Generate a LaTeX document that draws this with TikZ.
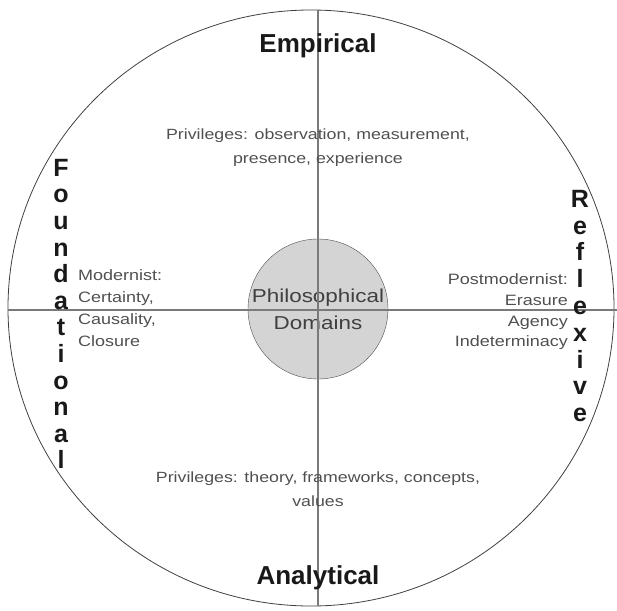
\documentclass[tikz,border=0pt]{standalone}
\usepackage{fontspec}
\setmainfont{Liberation Sans}
\newfontfamily\widesans[FakeStretch=1.2]{Liberation Sans}
\definecolor{axisgray}{HTML}{7A7A7A}
\definecolor{textgray}{HTML}{505050}
\definecolor{domfill}{HTML}{D4D4D4}
\begin{document}
\begin{tikzpicture}[x=1pt, y=-1pt,
    heading/.style={font=\fontsize{26}{26}\selectfont\bfseries, text=black!90, inner sep=0pt},
    stack/.style={align=center, inner sep=0pt, text=black!90},
    privtext/.style={font=\widesans\fontsize{14.8}{24}\selectfont, text=textgray, align=center, inner sep=0pt},
    listtext/.style={font=\widesans\fontsize{15}{22}\selectfont, text=textgray, inner sep=0pt},
    axis/.style={axisgray, line width=1.3pt}]
    \useasboundingbox (0,0) rectangle (617,610);

    % Círculo externo
    \draw[black!75, line width=0.8pt] (311,308) ellipse [x radius=303, y radius=298];

    % Domínios
    \node (dom) [circle, draw=black!70, fill=domfill,
        minimum size=140pt, inner sep=0pt, align=center,
        font=\widesans\fontsize{18.7}{27}\selectfont, text=black!75] at (318,309)
        {Philosophical\\Domains};

    % Eixos
    \coordinate (top) at (318,10);
    \coordinate (bottom) at (318,606);
    \coordinate (left) at (8,310);
    \coordinate (right) at (617,310);
    \draw[axis] (top) -- (bottom);
    \draw[axis] (left) -- (right);

    % Títulos
    \node (emp) [heading] at (318,46) {Empirical};
    \node (ana) [heading] at (318,578) {Analytical};
    \node (fou) [stack, font=\fontsize{25}{26.6}\selectfont\bfseries]
        at (61,314) {F\\o\\u\\n\\d\\a\\t\\i\\o\\n\\a\\l};
    \node (ref) [stack, font=\fontsize{25}{26.8}\selectfont\bfseries]
        at (580,306) {R\\e\\f\\l\\e\\x\\i\\v\\e};

    % Textos
    \node (privtop) [privtext] at (318,148) {Privileges: observation, measurement,\\presence, experience};
    \node (privbot) [privtext] at (318,489.5) {Privileges: theory, frameworks, concepts,\\values};
    \node (mod) [listtext, align=left, anchor=west] at (78,308.5) {Modernist:\\Certainty,\\Causality,\\Closure};
    \node (post) [listtext, align=right, anchor=east, font=\widesans\fontsize{15}{20.7}\selectfont]
        at (568,312) {Postmodernist:\\Erasure\\Agency\\Indeterminacy};
\end{tikzpicture}
\end{document}
